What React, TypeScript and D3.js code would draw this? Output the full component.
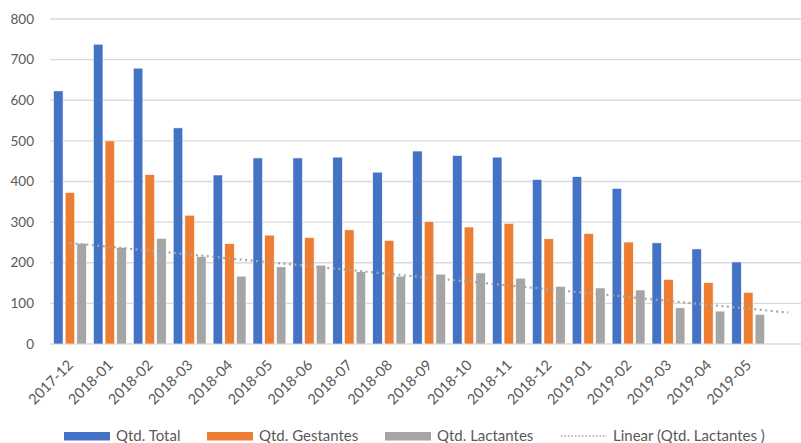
import React from 'react';
import * as d3 from 'd3';

const months = [
  '2017-12', '2018-01', '2018-02', '2018-03', '2018-04', '2018-05',
  '2018-06', '2018-07', '2018-08', '2018-09', '2018-10', '2018-11',
  '2018-12', '2019-01', '2019-02', '2019-03', '2019-04', '2019-05',
];
const total = [623, 738, 679, 532, 416, 458, 458, 460, 423, 475, 464, 460, 405, 412, 383, 249, 234, 202];
const gestantes = [373, 500, 417, 317, 247, 268, 262, 281, 255, 301, 288, 297, 259, 272, 251, 159, 151, 127];
const lactantes = [248, 238, 260, 215, 167, 190, 194, 178, 167, 172, 175, 162, 142, 138, 133, 89, 81, 73];
const yTicks = [0, 100, 200, 300, 400, 500, 600, 700, 800];

const seriesNames = ['Qtd. Total', 'Qtd. Gestantes', 'Qtd. Lactantes'];
const colors = ['#4472C4', '#ED7D31', '#A5A5A5'];

const W = 801;
const H = 443;
const FONT = 'Lato, "Open Sans", sans-serif';

export default function App() {
  const left = 50;
  const top = 19;
  const bottom = 344;

  // one extra slot on the right for the trendline forecast period
  const slots = [...months, '__forecast'];
  const x = d3.scaleBand().domain(slots).range([left, left + 19 * 39.9]);
  const inner = d3
    .scaleBand()
    .domain(seriesNames)
    .range([0, x.step()])
    .paddingInner(0.18)
    .paddingOuter(0.3);
  const y = d3.scaleLinear().domain([0, 800]).range([bottom, top]);

  const series = [total, gestantes, lactantes];

  // linear trendline on Qtd. Lactantes (like Excel)
  const n = lactantes.length;
  const xm = d3.mean(lactantes, (_, i) => i) as number;
  const ym = d3.mean(lactantes) as number;
  const slope =
    d3.sum(lactantes, (v, i) => (i - xm) * (v - ym)) /
    d3.sum(lactantes, (_, i) => (i - xm) * (i - xm));
  const icpt = ym - slope * xm;
  const cx = (i: number) => (x(slots[i]) as number) + x.bandwidth() / 2;
  const trend = d3
    .line<number>()
    .x((i) => cx(i))
    .y((i) => y(icpt + slope * i));

  const legend = [
    { label: 'Qtd. Total', x: 64, kind: 'bar', color: colors[0] },
    { label: 'Qtd. Gestantes', x: 207, kind: 'bar', color: colors[1] },
    { label: 'Qtd. Lactantes', x: 385, kind: 'bar', color: colors[2] },
    { label: 'Linear (Qtd. Lactantes )', x: 561, kind: 'line', color: colors[2] },
  ];

  return (
    <svg
      width={W}
      height={H}
      style={{ position: 'absolute', left: 0, top: 0, background: '#fff' }}
      fontFamily={FONT}
    >
      {yTicks.map((t) => (
        <g key={t}>
          <line x1={left} x2={W} y1={y(t)} y2={y(t)} stroke="#D9D9D9" strokeWidth={1.3} />
          <text x={34} y={y(t)} dy="0.35em" textAnchor="end" fontSize={13.5} fill="#595959">
            {t}
          </text>
        </g>
      ))}

      {series.map((vals, s) =>
        vals.map((v, i) => (
          <rect
            key={`${s}-${i}`}
            x={(x(months[i]) as number) + (inner(seriesNames[s]) as number)}
            y={y(v)}
            width={inner.bandwidth()}
            height={y(0) - y(v)}
            fill={colors[s]}
            stroke="#fff"
            strokeWidth={0.6}
          />
        ))
      )}

      <path
        d={trend(d3.range(n + 1)) as string}
        fill="none"
        stroke="#A5A5A5"
        strokeWidth={2.2}
        strokeDasharray="2 3.5"
      />

      {months.map((m) => (
        <text
          key={m}
          transform={`translate(${cx(months.indexOf(m)) + 4}, 366) rotate(-45)`}
          textAnchor="end"
          fontSize={14.5}
          fill="#595959"
        >
          {m}
        </text>
      ))}

      {legend.map((l) => (
        <g key={l.label}>
          {l.kind === 'bar' ? (
            <rect x={l.x} y={432} width={46} height={8.5} fill={l.color} />
          ) : (
            <line
              x1={l.x}
              x2={l.x + 46}
              y1={436}
              y2={436}
              stroke={l.color}
              strokeWidth={1.5}
              strokeDasharray="1.5 2"
            />
          )}
          <text x={l.x + 52} y={436} dy="0.35em" fontSize={15} fill="#595959">
            {l.label}
          </text>
        </g>
      ))}
    </svg>
  );
}
